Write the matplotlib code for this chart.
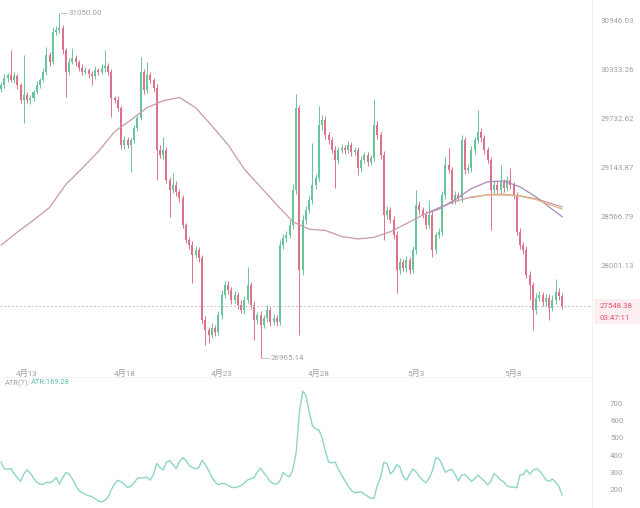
import numpy as np
import matplotlib
matplotlib.use('Agg')
import matplotlib.pyplot as plt
from matplotlib.ticker import NullLocator
from matplotlib.patches import Rectangle
from matplotlib.lines import Line2D

plt.rcParams['font.family'] = ['Roboto', 'Noto Sans CJK SC', 'DejaVu Sans']

# 4h candles, 4月11 16:00 -> 5月10 12:00
first_open = 30100
close = [
    30147, 30234, 30271, 30209, 30258, 30147, 29964, 30025, 29964, 29988,
    30062, 30147, 30209, 30308, 30520, 30432, 30807, 30833, 30858, 30582,
    30308, 30432, 30482, 30432, 30358, 30308, 30333, 30283, 30258, 30333,
    30308, 30358, 30383, 30308, 29988, 29964, 29866, 29419, 29479, 29419,
    29479, 29624, 29745, 30308, 30086, 30271, 30209, 30110, 29359, 29300,
    29359, 29002, 28884, 28943, 28861, 28790, 28475, 28301, 28244, 28129,
    28186, 28094, 27393, 27281, 27226, 27303, 27259, 27449, 27674, 27787,
    27730, 27617, 27674, 27561, 27505, 27617, 27787, 27561, 27393, 27449,
    27337, 27415, 27505, 27371, 27415, 27371, 28244, 28324, 28359, 28475,
    28884, 29866, 27957, 28533, 28650, 28767, 28943, 29025, 29660, 29721,
    29540, 29479, 29359, 29240, 29359, 29383, 29359, 29419, 29335, 29359,
    29144, 29240, 29300, 29216, 29264, 29660, 29540, 29300, 28591, 28650,
    28533, 28359, 27957, 28048, 27980, 28071, 27957, 28186, 28708, 28650,
    28591, 28475, 28591, 28186, 28359, 28394, 28825, 29180, 29120, 28767,
    28825, 28790, 29479, 29120, 29144, 29359, 29479, 29576, 29503, 29359,
    29240, 28884, 28943, 28884, 28978, 28908, 29002, 28943, 28825, 28394,
    28244, 28186, 27900, 27787, 27505, 27640, 27674, 27595, 27640, 27527,
    27617, 27708, 27662, 27548.38]

# wick lengths above / below the body
upper_wick = [
    40, 55, 30, 310, 45, 30, 25, 490, 35, 40,
    30, 45, 25, 50, 100, 40, 60, 45, 192, 35,
    30, 50, 125, 40, 30, 45, 35, 25, 40, 50,
    30, 45, 200, 35, 40, 30, 45, 30, 50, 35,
    25, 40, 35, 185, 40, 160, 35, 30, 45, 60,
    155, 40, 30, 140, 45, 30, 40, 25, 35, 40,
    50, 30, 35, 40, 30, 50, 35, 40, 55, 45,
    40, 30, 45, 35, 50, 40, 200, 35, 40, 30,
    45, 35, 50, 30, 40, 35, 60, 45, 40, 55,
    70, 175, 40, 60, 45, 55, 500, 50, 235, 60,
    45, 40, 35, 50, 40, 45, 30, 50, 40, 35,
    30, 45, 40, 35, 30, 310, 50, 40, 45, 40,
    35, 50, 40, 45, 30, 40, 35, 50, 180, 40,
    35, 45, 175, 40, 35, 50, 45, 100, 205, 40,
    45, 35, 60, 40, 45, 50, 40, 270, 45, 40,
    35, 40, 50, 45, 200, 40, 45, 145, 40, 35,
    40, 35, 45, 40, 30, 50, 40, 35, 45, 40,
    50, 145, 40, 30]
lower_wick = [
    40, 35, 45, 30, 40, 50, 35, 280, 40, 45,
    35, 30, 40, 25, 35, 45, 30, 40, 35, 45,
    305, 40, 30, 45, 35, 40, 30, 45, 110, 35,
    40, 30, 45, 35, 230, 40, 35, 50, 45, 40,
    320, 35, 40, 30, 45, 40, 35, 50, 355, 40,
    45, 35, 315, 40, 45, 50, 35, 40, 45, 320,
    40, 50, 45, 170, 90, 40, 50, 35, 45, 40,
    50, 45, 40, 50, 35, 45, 40, 50, 225, 45,
    372, 40, 50, 45, 35, 50, 40, 45, 50, 40,
    45, 50, 730, 55, 45, 40, 50, 45, 40, 55,
    45, 50, 40, 330, 45, 40, 50, 35, 45, 40,
    80, 45, 40, 50, 35, 40, 45, 50, 290, 45,
    40, 50, 260, 45, 40, 50, 45, 40, 45, 50,
    40, 45, 35, 80, 45, 40, 50, 45, 40, 50,
    45, 40, 50, 45, 40, 50, 45, 40, 45, 50,
    40, 470, 45, 40, 50, 45, 40, 45, 50, 40,
    45, 50, 40, 170, 225, 45, 40, 50, 45, 135,
    40, 45, 50, 40]

atr = [
    360, 320, 318, 322, 292, 270, 248, 290, 315, 295,
    268, 242, 232, 230, 243, 240, 250, 270, 232, 268,
    300, 290, 262, 225, 196, 182, 172, 165, 160, 148,
    135, 130, 138, 157, 200, 235, 254, 245, 232, 212,
    220, 240, 266, 268, 270, 272, 255, 290, 352, 328,
    314, 360, 368, 345, 322, 362, 385, 370, 340, 328,
    320, 330, 370, 345, 310, 272, 245, 228, 236, 234,
    226, 214, 212, 216, 224, 238, 256, 262, 270, 302,
    325, 298, 275, 246, 235, 232, 252, 300, 282, 275,
    318, 418, 650, 770, 745, 650, 570, 552, 545, 500,
    420, 360, 355, 360, 320, 285, 252, 222, 195, 182,
    185, 186, 175, 162, 150, 150, 225, 270, 358, 352,
    290, 310, 345, 330, 276, 255, 290, 320, 302, 276,
    255, 240, 268, 310, 385, 380, 345, 300, 312, 318,
    288, 250, 285, 288, 270, 248, 262, 284, 268, 250,
    228, 248, 292, 278, 256, 245, 222, 216, 215, 211,
    285, 288, 315, 290, 312, 322, 310, 285, 256, 248,
    262, 242, 220, 169.28]

# moving averages (candle index, price)
ma_long_idx = [0, 5, 10, 15, 20, 25, 30, 35, 40, 45, 50, 55, 60, 65, 70, 75,
               80, 85, 90, 95, 100, 105, 110, 115, 120, 125, 130, 135, 140,
               145, 150, 155, 160, 165, 170, 173]
ma_long = [28240, 28390, 28530, 28680, 28950, 29140, 29340, 29580, 29720,
           29870, 29955, 29995, 29870, 29650, 29420, 29130, 28920, 28710,
           28510, 28425, 28410, 28340, 28312, 28330, 28395, 28490, 28590,
           28675, 28750, 28800, 28825, 28825, 28815, 28780, 28720, 28685]
ma_mid_idx = [132, 135, 140, 145, 150, 155, 160, 165, 170, 173]
ma_mid = [28620, 28660, 28770, 28900, 28980, 28990, 28920, 28800, 28655, 28570]
ma_short_idx = [145, 150, 155, 160, 165, 170, 173]
ma_short = [28790, 28830, 28835, 28810, 28770, 28700, 28660]

price_ticks = [30946.03, 30333.26, 29732.62, 29143.87, 28566.79, 28001.13]
atr_ticks = [200, 300, 400, 500, 600, 700]
date_idx = [8, 38, 68, 98, 128, 158]
date_labels = ['4月13', '4月18', '4月23', '4月28', '5月3', '5月8']

GREEN = '#66c59a'
RED = '#de7289'
GREY = '#a0a0a0'
ATR_C = '#8fd4c7'

opens = [first_open] + close[:-1]
o = np.array(opens, dtype=float)
c = np.array(close, dtype=float)
hi = np.maximum(o, c) + np.array(upper_wick)
lo = np.minimum(o, c) - np.array(lower_wick)
idx = np.arange(len(c))
cols = [GREEN if cc >= oo else RED for oo, cc in zip(o, c)]

W, H = 640, 508
fig = plt.figure(figsize=(6.4, 5.08), dpi=100)
ax = fig.add_axes([0, 1 - 364 / H, 592 / W, 364 / H])
ax2 = fig.add_axes([0, 0, 592 / W, 130 / H])

# candles
ax.set_yscale('log')
ax.vlines(idx, lo, hi, colors=cols, lw=0.7)
bottoms = np.minimum(o, c)
heights = np.maximum(np.abs(c - o), 6)
ax.bar(idx, heights, bottom=bottoms, width=0.62, color=cols, linewidth=0)

ax.plot(ma_long_idx, ma_long, color='#c99aa6', lw=0.9)
ax.plot(ma_mid_idx, ma_mid, color='#a68aba', lw=0.9)
ax.plot(ma_short_idx, ma_short, color='#e3b483', lw=0.9)

ax.axhline(close[-1], color='#c4c4c4', lw=0.7, ls=(0, (2, 2)))

ax.set_xlim(-0.33, 182.2)
ax.set_ylim(26903, 31212)
ax.yaxis.tick_right()
ax.set_yticks(price_ticks)
ax.yaxis.set_minor_locator(NullLocator())
ax.set_yticklabels([f'{v:.2f}' for v in price_ticks])
ax.set_xticks(date_idx)
ax.set_xticklabels(date_labels)
ax.tick_params(axis='y', length=0, pad=6, labelsize=5.7, labelcolor=GREY)
ax.tick_params(axis='x', length=0, pad=3.5, labelsize=5.9, labelcolor=GREY)
for s in ax.spines.values():
    s.set_visible(False)

# max / min markers
hi_i = int(np.argmax(hi))
lo_i = int(np.argmin(lo))
ax.plot([hi_i + 0.5, hi_i + 2.3], [hi[hi_i]] * 2, color='#bdbdbd', lw=0.6)
ax.text(hi_i + 2.8, hi[hi_i], f'{hi[hi_i]:.2f}', fontsize=5.7, color=GREY,
        va='center', ha='left')
ax.plot([lo_i + 0.5, lo_i + 2.5], [lo[lo_i]] * 2, color='#bdbdbd', lw=0.6)
ax.text(lo_i + 3.0, lo[lo_i], '26965.14', fontsize=5.7, color=GREY,
        va='center', ha='left')

# ATR panel
ax2.plot(idx, atr, color=ATR_C, lw=1.0)
ax2.set_xlim(-0.33, 182.2)
ax2.set_ylim(94, 846)
ax2.yaxis.tick_right()
ax2.set_yticks(atr_ticks)
ax2.set_xticks([])
ax2.tick_params(axis='y', length=0, pad=13, labelsize=5.7, labelcolor=GREY)
for s in ax2.spines.values():
    s.set_visible(False)

# separators
fig.add_artist(Line2D([592 / W] * 2, [0, 1], color='#efefef', lw=0.6))
fig.add_artist(Line2D([0, 592 / W], [1 - 377 / H] * 2, color='#f0f0f0', lw=0.6))

# last price tag
fig.add_artist(Rectangle((594 / W, 1 - 324 / H), 46 / W, 25 / H,
                         color='#fdeff1', lw=0))
fig.text(600 / W, 1 - 306.5 / H, f'{close[-1]:.2f}', fontsize=5.7,
         color='#e0566f', va='center')
fig.text(600 / W, 1 - 318.5 / H, '03:47:11', fontsize=5.7,
         color='#e0566f', va='center')

# ATR legend
fig.text(5 / W, 1 - 383 / H, 'ATR(7):', fontsize=5.4, color=GREY, va='center')
fig.text(31 / W, 1 - 383 / H, f'ATR:{atr[-1]:.2f}', fontsize=5.4,
         color='#5cc2ae', va='center')

fig.savefig('out.png', dpi=100)
